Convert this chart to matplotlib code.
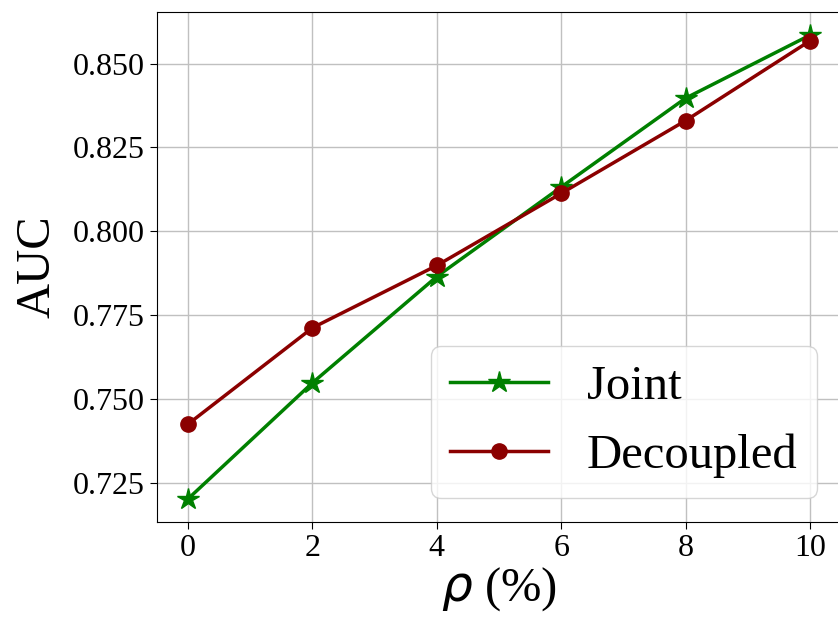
import matplotlib.pyplot as plt
import numpy as np

rho = [0, 2, 4, 6, 8, 10]
joint_auc = [0.7202, 0.7548, 0.7865, 0.8132, 0.8397, 0.8585]
decoupled_auc = [0.7425, 0.7712, 0.7898, 0.8113, 0.8330, 0.8568]
yticks = [0.725, 0.750, 0.775, 0.800, 0.825, 0.850]

plt.rcParams['font.family'] = ['Liberation Serif', 'DejaVu Serif']
plt.rcParams['mathtext.fontset'] = 'dejavusans'

fig = plt.figure(figsize=(8.38, 6.18), dpi=100)
ax = fig.add_axes([157 / 838, 1 - 522 / 618, 684 / 838, 510 / 618])

ax.plot(rho, joint_auc, color='green', marker='*', markersize=16, linewidth=2.5, label='Joint')
ax.plot(rho, decoupled_auc, color='darkred', marker='o', markersize=11, linewidth=2.5, label='Decoupled')

ax.set_xticks(rho)
ax.set_yticks(yticks)
ax.set_yticklabels([f'{v:.3f}' for v in yticks])
ax.tick_params(labelsize=23, length=5)
ax.set_xlabel(r'$\rho$ (%)', fontsize=35, labelpad=2)
ax.set_ylabel('AUC', fontsize=35, labelpad=10)
ax.grid(True, color='#c0c0c0', linewidth=1)
ax.set_axisbelow(True)
ax.legend(loc='lower right', fontsize=35)

plt.savefig('out.png', dpi=100)
